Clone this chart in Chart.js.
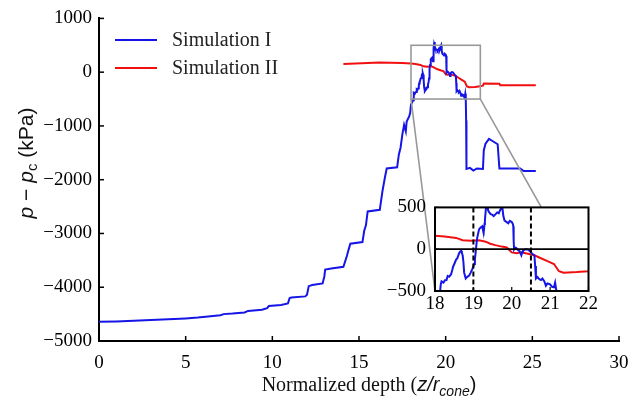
<!DOCTYPE html>
<html><head><meta charset="utf-8">
<script src="https://cdn.jsdelivr.net/npm/chart.js@4/dist/chart.umd.min.js"></script>
<style>
html,body{margin:0;padding:0;background:#fff;}
#wrap{position:relative;width:644px;height:402px;overflow:hidden;}
#main{position:absolute;left:0;top:0;}
#inset{position:absolute;left:380px;top:187px;}
</style></head><body>
<div id="wrap">
<canvas id="main" width="644" height="402"></canvas>
<canvas id="inset" width="220" height="129"></canvas>
</div>
<script>
// ---------- data ----------
const sim1X = [0,1,2,3,4,5,5.7,6.3,7.0,7.2,7.7,8.4,8.6,9.4,9.7,9.8,10.5,10.9,11.0,11.1,11.9,12.0,12.1,12.3,12.9,13.0,13.05,13.4,14.1,14.3,14.4,14.5,15.2,15.3,15.4,15.5,16.2,16.35,16.5,16.6,17.2,17.3,17.4,17.5,17.6,17.7,17.75,17.9,17.95,18.0,
18.13,18.15,18.17,18.22,18.26,18.30,18.33,18.37,18.42,18.45,18.47,18.50,18.55,18.58,18.62,18.64,18.68,18.70,18.72,18.74,18.76,18.80,18.84,18.89,18.93,18.98,
19.02,19.04,19.06,19.08,19.10,19.13,19.15,19.19,19.23,19.25,19.27,19.29,19.30,19.32,19.33,19.36,19.38,19.40,19.45,19.50,19.53,19.58,19.62,19.66,19.70,19.74,19.76,19.78,19.81,19.85,19.91,19.95,
20.00,20.03,20.04,20.05,20.06,20.09,20.12,20.16,20.20,20.25,20.27,20.29,20.35,20.42,20.46,20.50,20.55,20.59,20.61,20.63,20.67,20.72,20.76,20.80,20.85,20.89,20.93,
21.00,21.05,21.10,21.13,21.16,21.18,21.20,21.4,21.6,21.8,22.15,22.2,22.3,22.5,22.7,23.0,23.1,24.3,24.5,25.2];
const sim1Y = [-4640,-4635,-4625,-4610,-4595,-4580,-4565,-4545,-4520,-4500,-4490,-4470,-4440,-4420,-4390,-4350,-4330,-4300,-4200,-4190,-4170,-4140,-3980,-3960,-3930,-3800,-3670,-3650,-3620,-3420,-3300,-3190,-3160,-2950,-2850,-2590,-2560,-2220,-1950,-1790,-1770,-1530,-1400,-1160,-980,-1100,-920,-820,-760,-600,
-520,-420,-385,-400,-370,-368,-320,-330,-299,-250,-212,-180,-125,-110,-60,-38,-20,-45,-73,-150,-281,-351,-330,-316,-280,-229,
-177,-120,-38,60,135,200,240,260,274,230,205,300,344,450,520,560,470,448,420,410,396,420,440,430,470,500,482,400,344,330,309,340,
326,300,274,100,-3,20,14,-10,-20,-73,-40,-20,0,-3,-20,-38,-60,-73,-200,-351,-333,-360,-368,-350,-385,-437,-410,
-420,-450,-455,-400,-490,-900,-1800,-1780,-1830,-1790,-1800,-1450,-1330,-1240,-1280,-1340,-1790,-1790,-1840,-1840];

const sim2X = [14.1,14.8,15.5,16.2,16.8,17.5,18.0,18.25,18.55,18.72,18.93,19.15,19.32,19.44,19.57,19.74,19.87,20.0,20.12,20.25,20.42,20.59,20.76,20.93,21.1,21.23,21.35,21.69,21.99,22.15,22.2,23.1,23.15,25.2];
const sim2Y = [150,160,170,180,175,170,160,153,135,108,100,108,90,66,49,31,21,-38,-49,-38,-55,-73,-108,-142,-177,-264,-281,-274,-264,-250,-210,-215,-245,-245];

const seriesLabels = ['Simulation I','Simulation II'];
const seriesColors = ['#1515e6','#f01010'];
const mainXTicks = [0,5,10,15,20,25,30];
const mainYTicks = [-5000,-4000,-3000,-2000,-1000,0,1000];
const insetXTicks = [18,19,20,21,22];
const insetYTicks = [-500,0,500];
const dashedX = [19,20.5];

// ---------- helpers ----------
const SERIF = "Liberation Serif";
const SANS = "Liberation Sans";
Chart.defaults.font.family = SERIF;
Chart.defaults.color = '#000';
const fmt = v => String(v).replace('-', '\u2212');
const pts = (xs, ys) => xs.map((x,i)=>({x, y: ys[i]}));
function ln(ctx,x1,y1,x2,y2){ctx.beginPath();ctx.moveTo(x1,y1);ctx.lineTo(x2,y2);ctx.stroke();}
function richText(ctx, segs, x, y, align){
  let w = 0;
  segs.forEach(s=>{ctx.font=s.font; w += ctx.measureText(s.t).width;});
  let cx = align==='center' ? x - w/2 : x;
  ctx.textBaseline = 'alphabetic'; ctx.textAlign='left';
  segs.forEach(s=>{ctx.font=s.font; ctx.fillText(s.t, cx, y + (s.dy||0)); cx += ctx.measureText(s.t).width;});
}

const datasets = () => [
  {label: seriesLabels[0], data: pts(sim1X, sim1Y), borderColor: seriesColors[0], borderWidth: 2, pointRadius: 0, tension: 0},
  {label: seriesLabels[1], data: pts(sim2X, sim2Y), borderColor: seriesColors[1], borderWidth: 2, pointRadius: 0, tension: 0}
];
const tickFont = {family: SERIF, size: 19};

// ---------- inset ----------
const insetCanvas = document.getElementById('inset');
const insetDeco = {
  id: 'insetDeco',
  beforeDatasetsDraw(chart){
    const {ctx, chartArea:a} = chart;
    ctx.save(); ctx.fillStyle='#fff'; ctx.fillRect(a.left,a.top,a.right-a.left,a.bottom-a.top); ctx.restore();
  },
  afterDraw(chart){
    const {ctx, chartArea:a, scales:{x,y}} = chart;
    ctx.save();
    ctx.strokeStyle='#000';
    ctx.lineWidth=1.8;
    const y0 = y.getPixelForValue(0);
    ln(ctx,a.left,y0,a.right,y0);
    ctx.setLineDash([5,3]); ctx.lineWidth=2;
    dashedX.forEach(v=>{const p=x.getPixelForValue(v); ln(ctx,p,a.top,p,a.bottom);});
    ctx.setLineDash([]);
    ctx.lineWidth=1.2;
    insetXTicks.forEach(v=>{const p=x.getPixelForValue(v); ln(ctx,p,a.bottom,p,a.bottom-4);});
    insetYTicks.forEach(v=>{const p=y.getPixelForValue(v); ln(ctx,a.left,p,a.left+4,p);});
    ctx.lineWidth=2;
    ctx.strokeRect(a.left,a.top,a.right-a.left,a.bottom-a.top);
    ctx.restore();
  }
};
const insetChart = new Chart(insetCanvas, {
  type: 'line',
  data: {datasets: datasets()},
  options: {
    responsive:false, animation:false, devicePixelRatio:1,
    layout:{padding:{top:8,right:8,left:0,bottom:0}},
    plugins:{legend:{display:false}, tooltip:{enabled:false}},
    scales:{
      x:{type:'linear', min:18, max:22,
        afterBuildTicks: s=>{s.ticks = insetXTicks.map(v=>({value:v}));},
        afterFit: s=>{s.height=25;},
        ticks:{color:'#000', font:tickFont, padding:2, maxRotation:0, callback:v=>fmt(v)},
        grid:{display:false, drawTicks:false}, border:{display:false}},
      y:{type:'linear', min:-500, max:500,
        afterBuildTicks: s=>{s.ticks = insetYTicks.map(v=>({value:v}));},
        afterFit: s=>{s.width=55;},
        ticks:{color:'#000', font:tickFont, padding:9, callback:v=>fmt(v)},
        grid:{display:false, drawTicks:false}, border:{display:false}}
    }
  },
  plugins:[insetDeco]
});

// ---------- main ----------
const mainDeco = {
  id: 'mainDeco',
  afterDraw(chart){
    const {ctx, chartArea:a, scales:{x,y}} = chart;
    ctx.save();
    ctx.strokeStyle='#000'; ctx.lineWidth=1.5;
    mainXTicks.forEach(v=>{const p=x.getPixelForValue(v); ln(ctx,p,a.bottom,p,a.bottom-5);});
    mainYTicks.forEach(v=>{const p=y.getPixelForValue(v); ln(ctx,a.left,p,a.left+5,p);});
    const l=x.getPixelForValue(insetXTicks[0]), r=x.getPixelForValue(insetXTicks[insetXTicks.length-1]);
    const t=y.getPixelForValue(insetYTicks[insetYTicks.length-1]), b=y.getPixelForValue(insetYTicks[0]);
    ctx.strokeStyle='#999'; ctx.lineWidth=1.6;
    ctx.strokeRect(l,t,r-l,b-t);
    const ia = insetChart.chartArea, ox = insetCanvas.offsetLeft, oy = insetCanvas.offsetTop;
    ln(ctx,l,b,ox+ia.left,oy+ia.bottom);
    ln(ctx,r,b,ox+ia.right,oy+ia.bottom);
    ctx.lineWidth=2;
    const ly=[40,68];
    seriesLabels.forEach((lab,i)=>{
      ctx.strokeStyle=seriesColors[i]; ln(ctx,115,ly[i],157,ly[i]);
      ctx.fillStyle='#222'; ctx.font='20px '+SERIF; ctx.textBaseline='middle'; ctx.textAlign='left';
      ctx.fillText(lab,172,ly[i]+1);
    });
    ctx.fillStyle='#111';
    richText(ctx,[
      {t:'Normalized depth (', font:'20px '+SERIF},
      {t:'z/r', font:'italic 20px '+SANS},
      {t:'cone', font:'italic 14px '+SANS, dy:5},
      {t:')', font:'20px '+SANS}
    ], (a.left+a.right)/2 + 10, 391, 'center');
    ctx.save();
    ctx.translate(33, 163);
    ctx.rotate(-Math.PI/2);
    richText(ctx,[
      {t:'p', font:'italic 21px '+SANS},
      {t:' \u2212 ', font:'21px '+SANS},
      {t:'p', font:'italic 21px '+SANS},
      {t:'c', font:'15px '+SANS, dy:4},
      {t:' (kPa)', font:'21px '+SANS}
    ], 0, 0, 'center');
    ctx.restore();
    ctx.restore();
  }
};
new Chart(document.getElementById('main'), {
  type:'line',
  data:{datasets: datasets()},
  options:{
    responsive:false, animation:false, devicePixelRatio:1,
    layout:{padding:{top:16,right:25,left:0,bottom:0}},
    plugins:{legend:{display:false}, tooltip:{enabled:false}},
    scales:{
      x:{type:'linear', min:0, max:30,
        afterBuildTicks: s=>{s.ticks = mainXTicks.map(v=>({value:v}));},
        afterFit: s=>{s.height=61;},
        ticks:{color:'#000', font:tickFont, padding:11, maxRotation:0, callback:v=>fmt(v)},
        grid:{display:false, drawTicks:false}, border:{display:true, color:'#000', width:2}},
      y:{type:'linear', min:-5000, max:1000,
        afterBuildTicks: s=>{s.ticks = mainYTicks.map(v=>({value:v}));},
        afterFit: s=>{s.width=99;},
        ticks:{color:'#000', font:tickFont, padding:7, callback:v=>fmt(v)},
        grid:{display:false, drawTicks:false}, border:{display:true, color:'#000', width:2}}
    }
  },
  plugins:[mainDeco]
});
</script>
</body></html>
